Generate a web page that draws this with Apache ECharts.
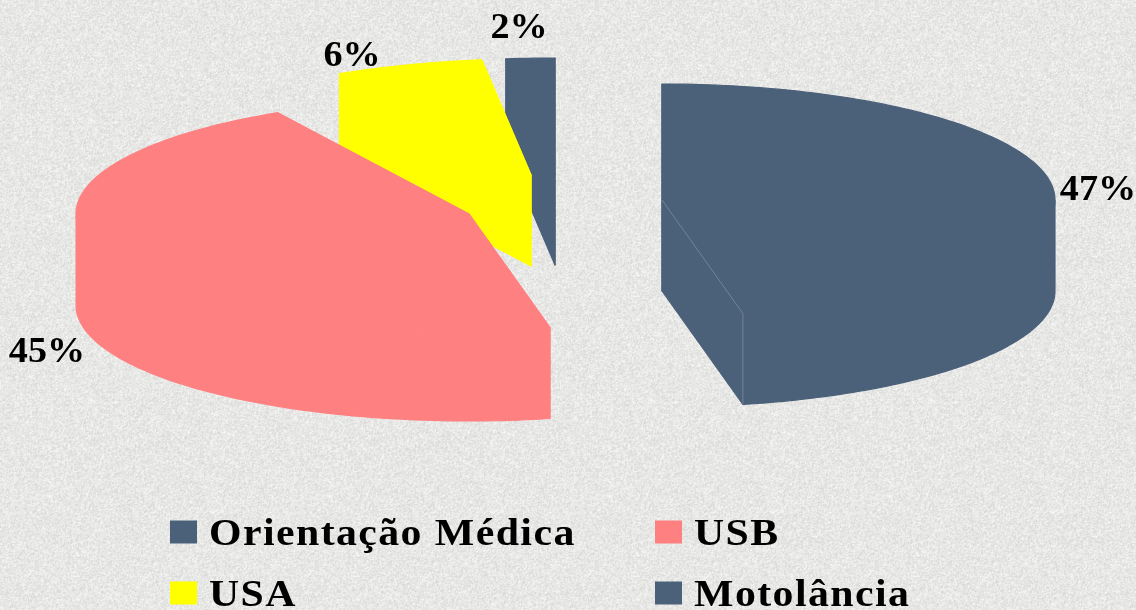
<!DOCTYPE html>
<html><head><meta charset="utf-8">
<style>html,body{margin:0;padding:0;background:#e4e4e2}#c{width:1136px;height:610px}</style>
<script src="https://cdn.jsdelivr.net/npm/echarts@6/dist/echarts.min.js"></script>
</head><body><div id="c"></div>
<script>
// Data
const categories = ['Orientação Médica', 'USB', 'USA', 'Motolância'];
const values = [46.7, 45.2, 6.1, 2.0];

// Styling and layout (separate from data)
const colors = ['#4b6079', '#ff8080', '#ffff00', '#4b6079'];
const centres = [[662, 200], [469, 214], [531, 175], [555, 174]];
const labelAt = [[1098, 191], [47, 353], [352, 57], [519, 29]];
const legendAt = [[170, 513], [655, 513], [170, 574], [655, 574]];
const RX = 393, RY = 116, DEPTH = 91;
const SERIF = '"Liberation Serif","Times New Roman",serif';
const total = values.reduce((a, b) => a + b, 0);

// The reference's type is stretched and letter-spaced; ECharts has no such option.
const fillTextOriginal = CanvasRenderingContext2D.prototype.fillText;
CanvasRenderingContext2D.prototype.fillText = function (text, x, y) {
  const legend = /\b38px/.test(this.font), label = /\b35px/.test(this.font);
  if (!legend && !label) return fillTextOriginal.apply(this, arguments);
  this.save();
  this.translate(x, y + (legend ? 3 : 0));
  this.scale(legend ? 1.1 : 1.09, 1);
  if (legend && 'letterSpacing' in this) this.letterSpacing = '1.3px';
  fillTextOriginal.call(this, text, 0, 0);
  this.restore();
};

function tile() {
  const S = 280, c = document.createElement('canvas');
  c.width = c.height = S;
  const g = c.getContext('2d'), im = g.createImageData(S, S);
  const h = (x, y) => { const v = Math.sin(x * 127.1 + y * 311.7) * 43758.5453; return v - Math.floor(v); };
  for (let y = 0; y < S; y++) for (let x = 0; x < S; x++) {
    const n = (h(x, y) * 2 + h(x + 1, y) + h(x, y + 1)) / 4 - 0.5;
    const m = Math.round(231 + n * 34), i = (y * S + x) * 4;
    im.data[i] = m; im.data[i + 1] = m; im.data[i + 2] = m - 1; im.data[i + 3] = 255;
  }
  g.putImageData(im, 0, 0);
  return c;
}

function renderSlice(params, api) {
  const i = params.seriesIndex;
  const before = values.slice(0, i).reduce((a, b) => a + b, 0);
  const a0 = before / total * Math.PI * 2;
  const a1 = a0 + api.value(0) / total * Math.PI * 2;
  const [cx, cy] = centres[i];
  const pt = (a) => [cx + RX * Math.sin(a), cy - RY * Math.cos(a)];
  const down = (p) => [p[0], p[1] + DEPTH];
  const steps = Math.max(4, Math.ceil((a1 - a0) / 0.02));
  const arc = [], front = [];
  for (let k = 0; k <= steps; k++) {
    const a = a0 + (a1 - a0) * k / steps, p = pt(a);
    arc.push(p);
    if (Math.cos(a) <= 0.001) front.push(p);
  }
  const apex = [cx, cy];
  const fill = { fill: colors[i], stroke: colors[i], lineWidth: 1.2, lineJoin: 'round' };
  const poly = (points) => ({ type: 'polygon', shape: { points }, style: fill });
  const children = [
    poly([apex, arc[0], down(arc[0]), down(apex)]),
    poly([apex, arc[steps], down(arc[steps]), down(apex)])
  ];
  if (front.length > 1) children.push(poly(front.concat(front.slice().reverse().map(down))));
  children.push(poly([apex].concat(arc)));
  if (i === 0) {
    const edge = { stroke: '#7f8d9f', lineWidth: 0.8, fill: null };
    children.push({ type: 'polyline', shape: { points: [apex, arc[steps], down(arc[steps])] }, style: edge });
  }
  children.push({
    type: 'text',
    style: {
      text: Math.round(api.value(0) / total * 100) + '%',
      x: labelAt[i][0], y: labelAt[i][1], fill: '#000',
      font: 'bold 35px ' + SERIF, align: 'center', verticalAlign: 'middle',
      textAlign: 'center', textVerticalAlign: 'middle'
    }
  });
  return { type: 'group', children };
}

const chart = echarts.init(document.getElementById('c'), null, { renderer: 'canvas' });
chart.setOption({
  animation: false,
  backgroundColor: { image: tile(), repeat: 'repeat' },
  tooltip: { show: false },
  legend: categories.map((name, i) => ({
    data: [{ name, icon: 'rect', itemStyle: { color: colors[i] } }],
    left: legendAt[i][0], top: legendAt[i][1], padding: 0,
    orient: 'horizontal', selectedMode: false,
    itemWidth: 27, itemHeight: 23, itemGap: 0,
    textStyle: { fontFamily: SERIF, fontWeight: 'bold', fontSize: 38, color: '#000', padding: [8, 0, 0, 7] }
  })),
  series: categories.map((name, i) => ({
    type: 'custom', name, coordinateSystem: 'none', silent: true,
    z: 10 - i, itemStyle: { color: colors[i] },
    renderItem: renderSlice, data: [[values[i]]]
  }))
});
</script></body></html>
